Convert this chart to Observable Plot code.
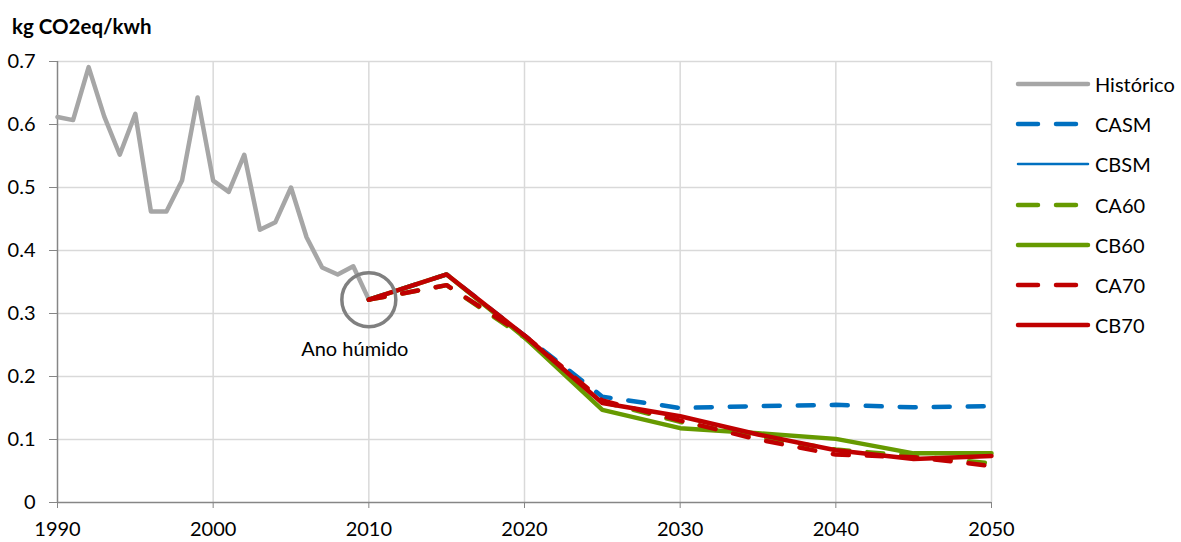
<!DOCTYPE html>
<html>
<head>
<meta charset="utf-8">
<script src="https://cdn.jsdelivr.net/npm/d3@7"></script>
<script src="https://cdn.jsdelivr.net/npm/@observablehq/plot@0.6"></script>
<style>
  html, body { margin: 0; padding: 0; background: #fff; }
  #wrap { position: relative; width: 1181px; height: 542px; font-family: Lato, "Open Sans", sans-serif; }
  #title { position: absolute; left: 12px; top: 14px; font-size: 20.5px; font-weight: bold; color: #000; }
  #legend { position: absolute; left: 1015px; top: 0; }
  .lrow { position: absolute; left: 0; display: flex; align-items: center; height: 26px; white-space: nowrap; }
  .lrow span { font-size: 20px; color: #000; margin-left: 4px; }
</style>
</head>
<body>
<div id="wrap">
  <div id="chart"></div>
  <div id="title">kg CO2eq/kwh</div>
  <div id="legend"></div>
</div>
<script>
// ---- data ----
const histYears = [1990,1991,1992,1993,1994,1995,1996,1997,1998,1999,2000,2001,2002,2003,2004,2005,2006,2007,2008,2009,2010];
const histValues = [0.612,0.607,0.691,0.613,0.552,0.617,0.462,0.462,0.511,0.643,0.511,0.493,0.552,0.433,0.445,0.500,0.421,0.373,0.362,0.375,0.322];

const projYears = [2010,2015,2020,2025,2030,2035,2040,2045,2050];
const casm = [0.322,0.362,0.265,0.168,0.150,0.153,0.155,0.151,0.153];
const cbsm = [0.322,0.362,0.265,0.158,0.137,0.108,0.083,0.069,0.074];
const ca60 = [0.322,0.345,0.262,0.160,0.128,0.104,0.084,0.074,0.062];
const cb60 = [0.322,0.362,0.262,0.147,0.118,0.110,0.101,0.078,0.078];
const ca70 = [0.322,0.345,0.265,0.162,0.130,0.100,0.076,0.072,0.058];
const cb70 = [0.322,0.362,0.265,0.158,0.137,0.108,0.083,0.069,0.074];

const seriesNames = ["Histórico","CASM","CBSM","CA60","CB60","CA70","CB70"];
const seriesColors = ["#a6a6a6","#0070c0","#0070c0","#669a00","#669a00","#c00000","#c00000"];
const seriesDashed = [false,true,false,true,false,true,false];
const seriesWidths = [4.5,4.5,2.5,4.5,4.5,4.5,4.5];

const xTicks = [1990,2000,2010,2020,2030,2040,2050];
const yTicks = [0,0.1,0.2,0.3,0.4,0.5,0.6,0.7];

const annotation = [{year: 2010, value: 0.322, label: "Ano húmido", labelYear: 2009.1, labelValue: 0.243}];

// ---- build tables ----
const projSeries = [casm, cbsm, ca60, cb60, ca70, cb70];
const tables = [histYears.map((y,i)=>({year:y, value:histValues[i]}))]
  .concat(projSeries.map(arr => projYears.map((y,i)=>({year:y, value:arr[i]}))));

const dash = "16,18";
const lineMarks = tables.map((t,i) => Plot.line(t, {
  x: "year", y: "value",
  stroke: seriesColors[i],
  strokeWidth: seriesWidths[i],
  strokeDasharray: seriesDashed[i] ? dash : null,
  strokeLinecap: "round", strokeLinejoin: "round"
}));

const chart = Plot.plot({
  width: 1181,
  height: 542,
  marginTop: 61,
  marginBottom: 40,
  marginLeft: 57,
  marginRight: 190,
  style: {fontFamily: "Lato, 'Open Sans', sans-serif", fontSize: "20px", color: "#000", background: "#fff"},
  x: {domain: [1990, 2050]},
  y: {domain: [0, 0.7]},
  marks: [
    Plot.gridX(xTicks.slice(1), {stroke: "#d9d9d9", strokeOpacity: 1, strokeWidth: 1.5}),
    Plot.gridY(yTicks.slice(1), {stroke: "#d9d9d9", strokeOpacity: 1, strokeWidth: 1.5}),
    Plot.ruleX([1990], {y1: 0, y2: 0.7, stroke: "#868686", strokeWidth: 1.5}),
    Plot.ruleY([0], {x1: 1990, x2: 2050, stroke: "#868686", strokeWidth: 1.5}),
    Plot.axisY(yTicks, {tickSize: 8, tickPadding: 14, stroke: "#868686", tickFormat: d => d === 0 ? "0" : d.toFixed(1), fontSize: 20, fill: "#000", label: null}),
    Plot.axisX(xTicks, {tickSize: 6, tickPadding: 13, stroke: "#868686", tickFormat: d => String(d), fontSize: 20, fill: "#000", label: null}),
    ...lineMarks,
    Plot.dot(annotation, {x: "year", y: "value", r: 27, stroke: "#808080", strokeWidth: 3.5, fill: "none"}),
    Plot.text(annotation, {x: "labelYear", y: "labelValue", text: "label", fontSize: 20, fill: "#000", textAnchor: "middle"})
  ]
});
document.getElementById("chart").appendChild(chart);

// ---- legend ----
const legend = document.getElementById("legend");
const rowCenters0 = 84, rowGap = 40.2;
seriesNames.forEach((name, i) => {
  const row = document.createElement("div");
  row.className = "lrow";
  row.style.top = (rowCenters0 + i*rowGap - 13) + "px";
  const ns = "http://www.w3.org/2000/svg";
  const svg = document.createElementNS(ns, "svg");
  svg.setAttribute("width", 76); svg.setAttribute("height", 10);
  const ln = document.createElementNS(ns, "line");
  ln.setAttribute("x1", 3); ln.setAttribute("x2", 73);
  ln.setAttribute("y1", 5); ln.setAttribute("y2", 5);
  ln.setAttribute("stroke", seriesColors[i]);
  ln.setAttribute("stroke-width", seriesWidths[i]);
  ln.setAttribute("stroke-linecap", "round");
  if (seriesDashed[i]) ln.setAttribute("stroke-dasharray", "20,18");
  svg.appendChild(ln);
  row.appendChild(svg);
  const sp = document.createElement("span");
  sp.textContent = name;
  row.appendChild(sp);
  legend.appendChild(row);
});
</script>
</body>
</html>
